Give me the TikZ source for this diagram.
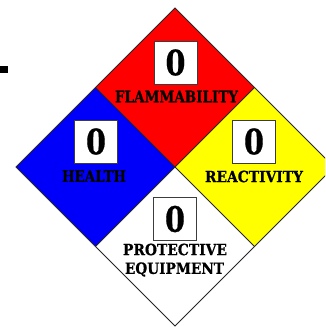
\documentclass[tikz,border=0pt]{standalone}
\usepackage{fontspec}
\usepackage{graphicx}
\newfontfamily\labelfont[BoldFeatures={FakeBold=0.6}]{DejaVu Serif}
\definecolor{nred}{RGB}{255,0,0}
\definecolor{nblue}{RGB}{0,0,250}
\definecolor{nyellow}{RGB}{255,255,0}
\definecolor{boxline}{RGB}{60,60,60}
\newcommand{\hazdigit}{\resizebox{20pt}{26pt}{\labelfont\bfseries 0}}
\tikzset{
  numbox/.style={draw=boxline, fill=white, minimum width=43pt, minimum height=43pt, inner sep=0pt, line width=0.8pt},
  lbl/.style={font=\labelfont\bfseries, inner sep=0pt, text=black},
  edge/.style={line width=0.9pt, draw=black!85}
}
\begin{document}
\begin{tikzpicture}[x=1pt,y=-1pt]
\useasboundingbox (0,0) rectangle (325,327);
\clip (0,0) rectangle (325,327);
\fill[white] (0,0) rectangle (325,327);
\coordinate (T) at (175,8);
\coordinate (B) at (175,326);
\coordinate (L) at (16,167);
\coordinate (R) at (334,167);
\coordinate (C) at (175,167);
\coordinate (TL) at (95.5,87.5);
\coordinate (TR) at (254.5,87.5);
\coordinate (BL) at (95.5,246.5);
\coordinate (BR) at (254.5,246.5);
% quadrants
\fill[nred] (T) -- (TR) -- (C) -- (TL) -- cycle;
\fill[nblue] (TL) -- (C) -- (BL) -- (L) -- cycle;
\fill[nyellow] (TR) -- (R) -- (BR) -- (C) -- cycle;
\fill[white] (C) -- (BR) -- (B) -- (BL) -- cycle;
\draw[edge] (T) -- (R) -- (B) -- (L) -- cycle;
\draw[edge] (TL) -- (BR);
\draw[edge] (TR) -- (BL);
% dash at left
\fill[black] (0,66) rectangle (8,72.5);
% number boxes
\node[numbox] (fnum) at (175.5,62.5) {\hazdigit};
\node[numbox] (hnum) at (96,141.5) {\hazdigit};
\node[numbox] (rnum) at (254,141.5) {\hazdigit};
\node[numbox] (pnum) at (175,219) {\hazdigit};
% labels
\node[lbl] (flab) at (176.5,96.5) {\resizebox{123pt}{11.5pt}{FLAMMABILITY}};
\node[lbl] (hlab) at (94,176) {\resizebox{64pt}{11.5pt}{HEALTH}};
\node[lbl] (rlab) at (254,176.5) {\resizebox{98pt}{11.5pt}{REACTIVITY}};
\node[lbl] (plab) at (175,249.5) {\resizebox{104pt}{11.5pt}{PROTECTIVE}};
\node[lbl] (elab) at (174.5,269.5) {\resizebox{99pt}{11.5pt}{EQUIPMENT}};
\end{tikzpicture}
\end{document}
